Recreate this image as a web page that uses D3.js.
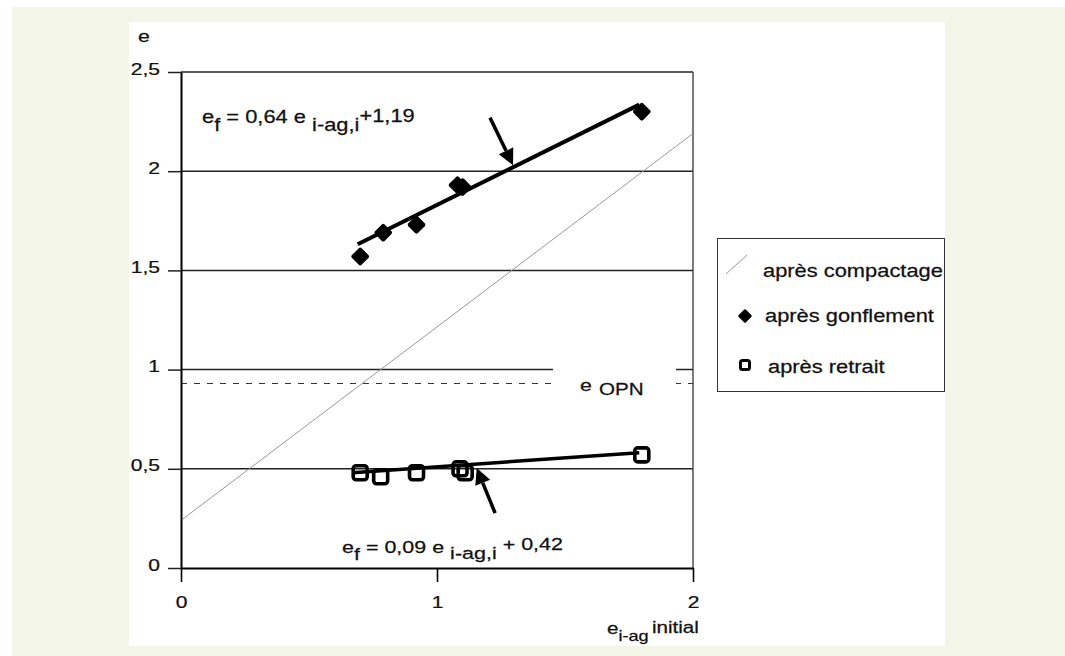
<!DOCTYPE html>
<html><head><meta charset="utf-8">
<script src="https://cdn.jsdelivr.net/npm/d3@7"></script>
<style>body{margin:0;background:#fff}svg{display:block}text{font-family:"Liberation Sans",Arial,sans-serif;fill:#111;stroke:#111;stroke-width:0.25px}</style>
</head><body>
<script>
// ---- data ----
const xTicks = [0, 1, 2];
const xTickLabels = ["0", "1", "2"];
const yTicks = [0, 0.5, 1, 1.5, 2, 2.5];
const yTickLabels = ["0", "0,5", "1", "1,5", "2", "2,5"];
const gonflementX = [0.70, 0.79, 0.92, 1.08, 1.10, 1.80];
const gonflementY = [1.57, 1.69, 1.73, 1.93, 1.92, 2.30];
const retraitX = [0.70, 0.78, 0.92, 1.09, 1.11, 1.80];
const retraitY = [0.48, 0.46, 0.48, 0.50, 0.48, 0.57];
const compactageX = [0, 2];
const compactageY = [0.24, 2.19];
const eOPN = 0.93;
const gonflementFit = [0.64, 1.19, 0.69, 1.79]; // slope, intercept, from, to
const retraitFit = [0.09, 0.42, 0.67, 1.79];
const arrowsData = [[1.207, 2.27, 1.297, 2.03], [1.227, 0.277, 1.155, 0.504]]; // x1,y1 -> x2,y2 (tip)
const legendLabels = ["après compactage", "après gonflement", "après retrait"];

const W = 1065, H = 656, SX = 1.25;
const svg = d3.select("body").append("svg").attr("width", W).attr("height", H);
svg.append("rect").attr("width", W).attr("height", H).attr("fill", "#fff");
svg.append("rect").attr("x", 12).attr("y", 7).attr("width", W - 12).attr("height", H - 7).attr("fill", "#f3f6e7");
svg.append("rect").attr("x", 129).attr("y", 22).attr("width", 816).attr("height", 624).attr("fill", "#fff");

const x = d3.scaleLinear().domain([0, 2]).range([181, 693]);
const y = d3.scaleLinear().domain([0, 2.5]).range([568, 72]);

function sText(parent, px, py, size, anchor, sx) {
  const g = parent.append("g").attr("transform", `translate(${px},${py}) scale(${sx || SX},1)`);
  return g.append("text").attr("font-size", size).attr("text-anchor", anchor || "start");
}

// gridlines
svg.append("g").selectAll("line").data(yTicks.filter(d => d > 0)).join("line")
  .attr("x1", x(0)).attr("x2", x(2)).attr("y1", d => y(d)).attr("y2", d => y(d))
  .attr("stroke", "#222").attr("stroke-width", 1.5);
// right frame
svg.append("line").attr("x1", x(2)).attr("x2", x(2)).attr("y1", y(2.5)).attr("y2", y(0))
  .attr("stroke", "#444").attr("stroke-width", 1.4);

// compactage line
svg.append("line").attr("x1", x(compactageX[0])).attr("y1", y(compactageY[0]))
  .attr("x2", x(compactageX[1])).attr("y2", y(compactageY[1]))
  .attr("stroke", "#999").attr("stroke-width", 1);

// e OPN dashed
svg.append("line").attr("x1", x(0)).attr("x2", x(2)).attr("y1", y(eOPN)).attr("y2", y(eOPN))
  .attr("stroke", "#333").attr("stroke-width", 1).attr("stroke-dasharray", "6,7");
svg.append("rect").attr("x", 553).attr("y", 360).attr("width", 123).attr("height", 42).attr("fill", "#fff");
sText(svg, 580, 391, 17, "start").text("e");
sText(svg, 599, 395, 16.5, "start").text("OPN");

// fits
[gonflementFit, retraitFit].forEach((f, i) => {
  svg.append("line")
    .attr("x1", x(f[2])).attr("y1", y(f[0] * f[2] + f[1]))
    .attr("x2", x(f[3])).attr("y2", y(f[0] * f[3] + f[1]))
    .attr("stroke", "#000").attr("stroke-width", i === 0 ? 4 : 3.5);
});

// markers
const diamonds = gonflementX.map((v, i) => [v, gonflementY[i]]);
svg.append("g").selectAll("rect").data(diamonds).join("rect")
  .attr("x", -6.8).attr("y", -6.8).attr("width", 13.6).attr("height", 13.6).attr("rx", 2)
  .attr("transform", d => `translate(${x(d[0])},${y(d[1])}) rotate(45)`).attr("fill", "#000");
const squares = retraitX.map((v, i) => [v, retraitY[i]]);
svg.append("g").selectAll("rect").data(squares).join("rect")
  .attr("x", d => x(d[0]) - 7).attr("y", d => y(d[1]) - 7).attr("width", 14).attr("height", 14).attr("rx", 3)
  .attr("fill", "#fff").attr("fill-opacity", 0).attr("stroke", "#000").attr("stroke-width", 3.6);

// arrows
arrowsData.forEach(a => {
  const x1 = x(a[0]), y1 = y(a[1]), x2 = x(a[2]), y2 = y(a[3]);
  const ang = Math.atan2(y2 - y1, x2 - x1);
  const L = 16, hw = 8;
  const bx = x2 - L * Math.cos(ang), by = y2 - L * Math.sin(ang);
  svg.append("line").attr("x1", x1).attr("y1", y1).attr("x2", bx).attr("y2", by)
    .attr("stroke", "#000").attr("stroke-width", 3.5);
  const p = [[x2, y2], [bx + hw * Math.sin(ang), by - hw * Math.cos(ang)], [bx - hw * Math.sin(ang), by + hw * Math.cos(ang)]];
  svg.append("path").attr("d", "M" + p.map(q => q.join(",")).join("L") + "Z").attr("fill", "#000");
});

// axes
const yAxis = d3.axisLeft(y).tickValues(yTicks).tickSize(13).tickSizeOuter(0).tickFormat((d, i) => yTickLabels[i]);
const yg = svg.append("g").attr("transform", `translate(${x(0)},0)`).call(yAxis);
yg.select(".domain").attr("stroke", "#000").attr("stroke-width", 2);
yg.selectAll(".tick line").attr("stroke", "#222").attr("stroke-width", 1.5);
yg.selectAll(".tick text").attr("x", 0).attr("dy", 0).attr("fill", "#111")
  .attr("font-family", "Liberation Sans").attr("font-size", 17).attr("text-anchor", "end")
  .attr("transform", `translate(-21,2) scale(1.24,1)`);
const xAxis = d3.axisBottom(x).tickValues(xTicks).tickSize(14).tickSizeOuter(0).tickFormat((d, i) => xTickLabels[i]);
const xg = svg.append("g").attr("transform", `translate(0,${y(0)})`).call(xAxis);
xg.select(".domain").attr("stroke", "#000").attr("stroke-width", 2);
xg.selectAll(".tick line").attr("stroke", "#000").attr("stroke-width", 1.6);
xg.selectAll(".tick text").attr("y", 0).attr("dy", 0).attr("fill", "#111")
  .attr("font-family", "Liberation Sans").attr("font-size", 17).attr("text-anchor", "middle")
  .attr("transform", `translate(0,40) scale(1.24,1)`);

// axis titles
sText(svg, 138, 42, 17, "start").text("e");
const xt = sText(svg, 607, 634, 16.5, "start");
xt.append("tspan").text("e");
xt.append("tspan").attr("dy", 7).attr("font-size", 14.5).text("i-ag");
xt.append("tspan").attr("dy", -8).attr("dx", -2).text(" initial");

// equations
const e1 = sText(svg, 202, 123, 17.5, "start");
e1.append("tspan").text("e");
e1.append("tspan").attr("dy", 8).text("f");
e1.append("tspan").attr("dy", -8).text(" = 0,64 e ");
e1.append("tspan").attr("dy", 8).text("i-ag,i");
e1.append("tspan").attr("dy", -9).text("+1,19");
const e2 = sText(svg, 342, 553, 17.2, "start");
e2.append("tspan").text("e");
e2.append("tspan").attr("dy", 7).text("f");
e2.append("tspan").attr("dy", -7).text(" = 0,09 e ");
e2.append("tspan").attr("dy", 6).text("i-ag,i");
e2.append("tspan").attr("dy", -9).text(" + 0,42");

// legend
svg.append("rect").attr("x", 717.5).attr("y", 238.5).attr("width", 227).attr("height", 153)
  .attr("fill", "#fff").attr("stroke", "#333").attr("stroke-width", 1);
svg.append("line").attr("x1", 726).attr("y1", 274).attr("x2", 747).attr("y2", 255).attr("stroke", "#999").attr("stroke-width", 1);
svg.append("rect").attr("x", -5.2).attr("y", -5.2).attr("width", 10.4).attr("height", 10.4).attr("rx", 1.5)
  .attr("transform", "translate(745,316) rotate(45)").attr("fill", "#000");
svg.append("rect").attr("x", 740.5).attr("y", 360.5).attr("width", 9).attr("height", 9).attr("rx", 2)
  .attr("fill", "none").attr("stroke", "#000").attr("stroke-width", 3);
const legY = [277, 322, 373], legX = [763, 765, 768];
legendLabels.forEach((t, i) => sText(svg, legX[i], legY[i], 17.5, "start").text(t));
</script>
</body></html>
